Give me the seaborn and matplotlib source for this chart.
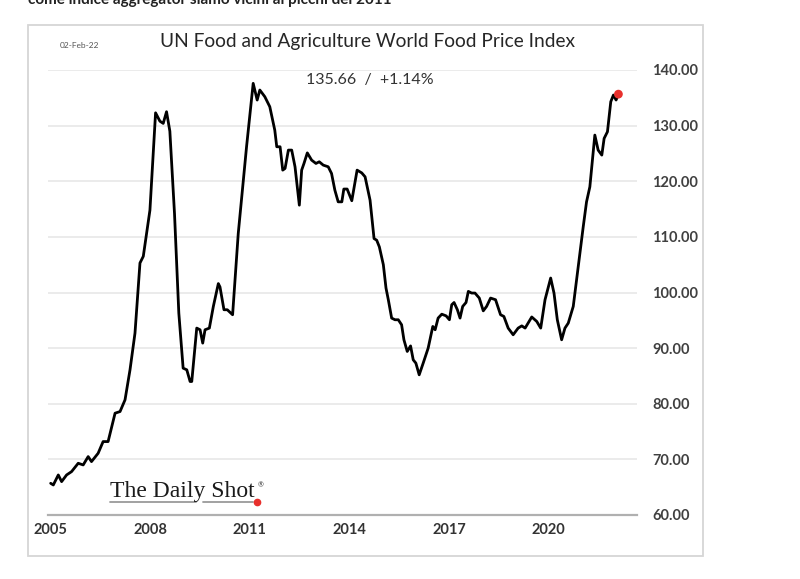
import matplotlib
matplotlib.use("Agg")
import matplotlib.pyplot as plt
import seaborn as sns
import pandas as pd
from matplotlib.lines import Line2D
from matplotlib.patches import Rectangle

# ---- data ----
dates = [2005.00, 2005.08, 2005.23, 2005.33, 2005.48, 2005.63, 2005.83, 2005.98,
         2006.13, 2006.23, 2006.43, 2006.58, 2006.73, 2006.94, 2007.09, 2007.24,
         2007.39, 2007.54, 2007.69, 2007.79, 2007.99, 2008.16, 2008.29, 2008.39,
         2008.49, 2008.59, 2008.73, 2008.86, 2008.99, 2009.10, 2009.20, 2009.25,
         2009.40, 2009.50, 2009.58, 2009.65, 2009.78, 2009.90, 2010.05, 2010.10,
         2010.22, 2010.32, 2010.48, 2010.65, 2010.90, 2011.10, 2011.22, 2011.30,
         2011.45, 2011.60, 2011.75, 2011.81, 2011.91, 2011.99, 2012.06, 2012.16,
         2012.26, 2012.36, 2012.49, 2012.56, 2012.63, 2012.73, 2012.86, 2012.99,
         2013.09, 2013.21, 2013.36, 2013.46, 2013.56, 2013.66, 2013.77, 2013.83,
         2013.93, 2014.07, 2014.23, 2014.37, 2014.47, 2014.62, 2014.74, 2014.82,
         2014.90, 2015.02, 2015.10, 2015.17, 2015.27, 2015.37, 2015.47, 2015.57,
         2015.64, 2015.74, 2015.84, 2015.92, 2016.00, 2016.10, 2016.22, 2016.37,
         2016.51, 2016.58, 2016.67, 2016.78, 2016.91, 2017.01, 2017.08, 2017.15,
         2017.25, 2017.33, 2017.41, 2017.51, 2017.58, 2017.68, 2017.78, 2017.91,
         2018.03, 2018.13, 2018.25, 2018.40, 2018.55, 2018.65, 2018.78, 2018.93,
         2019.08, 2019.19, 2019.29, 2019.49, 2019.64, 2019.76, 2019.89, 2020.06,
         2020.16, 2020.26, 2020.39, 2020.49, 2020.59, 2020.74, 2020.89, 2021.04,
         2021.14, 2021.24, 2021.39, 2021.49, 2021.60, 2021.67, 2021.77, 2021.87,
         2021.95, 2022.03, 2022.10]
index_values = [65.7, 65.4, 67.2, 66.0, 67.2, 67.8, 69.3, 69.0,
                70.5, 69.6, 71.1, 73.2, 73.2, 78.3, 78.6, 80.7,
                86.1, 92.7, 105.3, 106.5, 114.8, 132.3, 130.8, 130.4,
                132.5, 129.0, 114.2, 96.3, 86.4, 86.1, 84.0, 84.0,
                93.6, 93.3, 90.9, 93.3, 93.6, 97.5, 101.6, 101.0,
                96.9, 96.9, 96.0, 110.6, 126.2, 137.6, 134.6, 136.4,
                135.2, 133.4, 129.2, 126.2, 126.2, 122.0, 122.3, 125.6,
                125.6, 122.6, 115.7, 122.0, 123.2, 125.1, 123.8, 123.2,
                123.5, 122.9, 122.6, 121.4, 118.4, 116.3, 116.3, 118.6,
                118.6, 116.5, 122.0, 121.5, 120.8, 116.6, 109.7, 109.4,
                108.2, 105.0, 100.8, 98.7, 95.4, 95.1, 95.1, 94.2,
                91.5, 89.4, 90.4, 87.9, 87.3, 85.2, 87.3, 90.0,
                93.9, 93.3, 95.4, 96.1, 95.8, 95.1, 97.8, 98.2,
                96.9, 95.4, 97.5, 98.2, 100.2, 99.9, 99.9, 99.0,
                96.7, 97.5, 99.0, 98.7, 96.0, 95.7, 93.6, 92.4,
                93.6, 94.0, 93.6, 95.6, 94.8, 93.6, 98.7, 102.6,
                99.9, 95.1, 91.5, 93.6, 94.5, 97.5, 104.7, 111.8,
                116.3, 119.0, 128.3, 125.6, 124.7, 127.7, 128.9, 134.3,
                135.5, 134.6, 135.66]
x_ticks = [2005, 2008, 2011, 2014, 2017, 2020]
y_ticks = [60, 70, 80, 90, 100, 110, 120, 130, 140]

title = "UN Food and Agriculture World Food Price Index"
date_label = "02-Feb-22"
last_label = "135.66  /  +1.14%"
caption = "come indice aggregator siamo vicini ai picchi del 2011"

df = pd.DataFrame({"date": dates, "value": index_values})

sns.set_theme(style="white")
plt.rcParams["font.family"] = ["Lato", "DejaVu Sans"]

W, H = 800, 579
fig = plt.figure(figsize=(W / 100, H / 100), dpi=100)
fig.patch.set_facecolor("white")

def fx(px):
    return px / W

def fy(py):
    return 1 - py / H

ax = fig.add_axes([fx(48), fy(515), fx(637) - fx(48), fy(70) - fy(515)])
ax.set_facecolor("white")

# gridlines
for v in y_ticks[1:]:
    ax.axhline(v, color="#e6e6e6", lw=1.1, zorder=0)

sns.lineplot(data=df, x="date", y="value", ax=ax, color="black", lw=2.0,
             sort=False, zorder=3)
sns.scatterplot(x=[dates[-1]], y=[index_values[-1]], ax=ax, color="#e8302c",
                s=40, edgecolor="none", zorder=4)

ax.set_xlim(2004.92, 2022.66)
ax.set_ylim(60, 140)
for s in ["top", "left", "right"]:
    ax.spines[s].set_visible(False)
ax.spines["bottom"].set_color("#b0b0b0")
ax.spines["bottom"].set_linewidth(1.6)

ax.set_xticks(x_ticks)
ax.set_xticklabels([str(t) for t in x_ticks])
ax.tick_params(axis="x", direction="in", length=4, width=1, color="#808080",
               pad=6, labelsize=10.5, labelcolor="#333333")
for lbl in ax.get_xticklabels():
    lbl.set_fontweight("bold")

ax.yaxis.tick_right()
ax.set_yticks(y_ticks)
ax.set_yticklabels([f"{t:.2f}" for t in y_ticks])
ax.tick_params(axis="y", length=0, pad=11, labelsize=10.5, labelcolor="#404040")
for lbl in ax.get_yticklabels():
    lbl.set_fontweight("bold")
ax.set_xlabel("")
ax.set_ylabel("")

# texts
fig.text(fx(367), fy(42), title, ha="center", va="center", fontsize=13.8,
         color="#262626")
fig.text(fx(80), fy(46), date_label, ha="center", va="center", fontsize=6,
         color="#555555")
fig.text(fx(370), fy(80), last_label, ha="center", va="center", fontsize=11.5,
         color="#333333")
fig.text(fx(28), fy(4), caption, ha="left", va="baseline", fontsize=11,
         color="#222222", fontweight="bold")

# logo
fig.text(fx(110), fy(497), "The Daily Shot", ha="left", va="baseline",
         fontsize=17, family=["Liberation Serif", "DejaVu Serif"], color="#1a1a1a")
fig.text(fx(258), fy(487), "®", ha="left", va="baseline", fontsize=5,
         color="#333333")
fig.add_artist(Line2D([fx(110), fx(196)], [fy(502), fy(502)], color="#9a9a9a", lw=1.3))
fig.add_artist(Line2D([fx(203), fx(253)], [fy(502), fy(502)], color="#9a9a9a", lw=1.3))
fig.add_artist(Line2D([fx(257)], [fy(502)], marker="o", color="#e8302c",
                      markersize=4.5, lw=0))

# frame
fig.add_artist(Rectangle((fx(28), fy(556)), fx(703) - fx(28), fy(25) - fy(556),
                         fill=False, edgecolor="#d6d6d6", lw=1.3,
                         transform=fig.transFigure))

fig.savefig("out.png", dpi=100, facecolor="white")
